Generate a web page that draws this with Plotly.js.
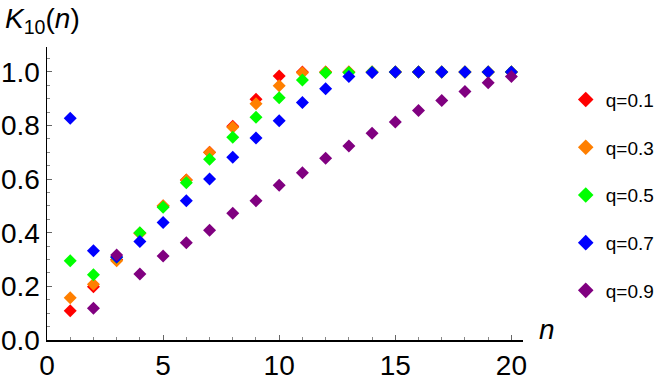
<!DOCTYPE html>
<html>
<head>
<meta charset="utf-8">
<script src="https://cdn.plot.ly/plotly-3.0.1.min.js"></script>
<style>
  body { margin: 0; padding: 0; background: #fff; }
  #chart { width: 664px; height: 382px; }
</style>
</head>
<body>
<div id="chart"></div>
<script>
// K_10(n) for several q values
var n = [1, 2, 3, 4, 5, 6, 7, 8, 9, 10, 11, 12, 13, 14, 15, 16, 17, 18, 19, 20];
var k_q01 = [0.109, 0.199, 0.300, 0.398, 0.500, 0.597, 0.700, 0.797, 0.898, 0.985, 1.0, 1.0, 1.0, 1.0, 1.0, 1.0, 1.0, 1.0, 1.0, 1.0];
var k_q03 = [0.158, 0.208, 0.296, 0.398, 0.501, 0.597, 0.699, 0.794, 0.881, 0.948, 0.997, 1.0, 1.0, 1.0, 1.0, 1.0, 1.0, 1.0, 1.0, 1.0];
var k_q05 = [0.296, 0.243, 0.309, 0.400, 0.495, 0.587, 0.674, 0.756, 0.831, 0.904, 0.970, 0.997, 0.998, 1.0, 1.0, 1.0, 1.0, 1.0, 1.0, 1.0];
var k_q07 = [0.827, 0.333, 0.310, 0.367, 0.438, 0.519, 0.601, 0.682, 0.754, 0.818, 0.886, 0.937, 0.983, 0.998, 1.0, 1.0, 1.0, 1.0, 1.0, 1.0];
var k_q09 = [null, 0.118, 0.317, 0.246, 0.313, 0.363, 0.409, 0.473, 0.519, 0.577, 0.624, 0.678, 0.724, 0.771, 0.813, 0.856, 0.893, 0.927, 0.960, 0.983];

var names = ['q=0.1', 'q=0.3', 'q=0.5', 'q=0.7', 'q=0.9'];
var colors = ['#ff0000', '#ff7f00', '#00ff00', '#0000ff', '#800080'];
var series = [k_q01, k_q03, k_q05, k_q07, k_q09];

var data = series.map(function (ys, i) {
  return {
    x: n,
    y: ys,
    type: 'scatter',
    mode: 'markers',
    name: names[i],
    legendgroup: 'g' + i,
    marker: { symbol: 'diamond', size: 10, color: colors[i] }
  };
});

var fam = 'Arial, Liberation Sans, sans-serif';

var layout = {
  width: 664,
  height: 382,
  margin: { l: 47, r: 141, t: 47, b: 42 },
  paper_bgcolor: '#fff',
  plot_bgcolor: '#fff',
  font: { family: fam, size: 19, color: '#000' },
  showlegend: true,
  legend: {
    xref: 'container', yref: 'paper',
    x: 0.852, xanchor: 'left',
    y: 0.885, yanchor: 'top',
    traceorder: 'grouped',
    tracegroupgap: 20,
    itemsizing: 'constant',
    font: { family: fam, size: 19, color: '#000' }
  },
  xaxis: {
    range: [0, 20.5],
    showgrid: false, zeroline: false,
    showline: true, linecolor: '#000', linewidth: 1.5,
    ticks: 'inside', ticklen: 5, tickcolor: '#666',
    tickvals: [0, 5, 10, 15, 20],
    minor: { dtick: 1, ticks: 'inside', ticklen: 3, tickcolor: '#888' },
    tickfont: { family: fam, size: 28, color: '#000' }
  },
  yaxis: {
    range: [0, 1.093],
    showgrid: false, zeroline: false,
    showline: true, linecolor: '#000', linewidth: 1.5,
    ticks: 'inside', ticklen: 5, tickcolor: '#666',
    tickvals: [0, 0.2, 0.4, 0.6, 0.8, 1.0],
    ticktext: ['0.0', '0.2', '0.4', '0.6', '0.8', '1.0'],
    minor: { dtick: 0.05, ticks: 'inside', ticklen: 3, tickcolor: '#888' },
    tickfont: { family: fam, size: 28, color: '#000' }
  },
  annotations: [
    {
      text: '<i>K</i><sub>10</sub>(<i>n</i>)',
      xref: 'paper', yref: 'paper',
      x: -0.092, y: 1.09, xanchor: 'left', yanchor: 'middle',
      showarrow: false,
      font: { family: fam, size: 28, color: '#000' }
    },
    {
      text: '<i>n</i>',
      xref: 'paper', yref: 'paper',
      x: 1.03, y: 0.035, xanchor: 'left', yanchor: 'middle',
      showarrow: false,
      font: { family: fam, size: 28, color: '#000' }
    }
  ]
};

Plotly.newPlot('chart', data, layout, { displayModeBar: false, staticPlot: true });
</script>
</body>
</html>
